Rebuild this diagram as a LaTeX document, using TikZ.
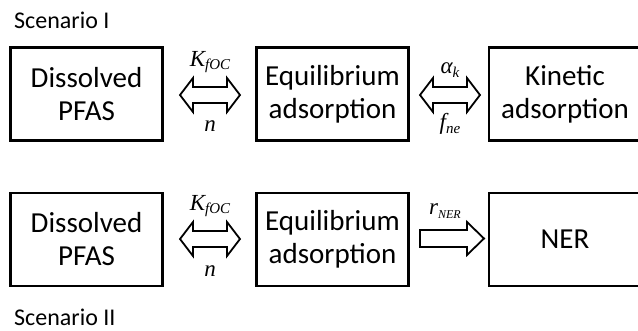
\documentclass[tikz,border=0pt]{standalone}
\usepackage{fontspec}
\setmainfont{Carlito}
\newfontfamily\tms{Liberation Serif}
\newcommand{\subsc}[1]{\raisebox{-3.5pt}{\fontsize{15}{15}\selectfont #1}}
\begin{document}
\begin{tikzpicture}[x=1pt,y=-1pt,
 box/.style={draw, line width=2.6pt, minimum width=152pt, minimum height=93pt, align=center, font=\fontsize{29}{33}\selectfont, inner sep=0pt},
 fat/.style={draw, line width=1.8pt, line join=miter},
 lab/.style={font=\tms\itshape\fontsize{23}{23}\selectfont, inner sep=0pt},
 title/.style={font=\fontsize{24}{24}\selectfont, inner sep=0pt, anchor=base west}]
\useasboundingbox (0,0) rectangle (638,330);
\fill[white] (0,0) rectangle (638,330);
\begin{scope}
\clip (0,0) rectangle (638,330);
\node[title] (s1) at (14,28) {Scenario I};
\node[title] (s2) at (14,325) {Scenario II};
% row 1
\node[box] (d1) at (86.5,94) {Dissolved\\PFAS};
\node[box] (e1) at (332.5,94) {Equilibrium\\adsorption};
\node[box] (k1) at (565,94) {Kinetic\\adsorption};
% row 2
\node[box] (d2) at (86.5,239.5) {Dissolved\\PFAS};
\node[box] (e2) at (332.5,239.5) {Equilibrium\\adsorption};
\node[box] (n2) at (565,239.5) {NER};
% double arrows
\draw[fat] (180,95) -- (193,78) -- (193,87) -- (227,87) -- (227,78) -- (240,95)
  -- (227,112) -- (227,103) -- (193,103) -- (193,112) -- cycle;
\draw[fat] (420,95) -- (433,78) -- (433,87) -- (467,87) -- (467,78) -- (480,95)
  -- (467,112) -- (467,103) -- (433,103) -- (433,112) -- cycle;
\draw[fat] (180,239) -- (193,222) -- (193,231) -- (227,231) -- (227,222) -- (240,239)
  -- (227,256) -- (227,247) -- (193,247) -- (193,256) -- cycle;
% single arrow
\draw[fat] (420,230) -- (467,230) -- (467,222) -- (484,238.5) -- (467,255) -- (467,247) -- (420,247) -- cycle;
% labels
\node[lab] (l1) at (210,62) {K\subsc{fOC}};
\node[lab] (l2) at (210,126) {n};
\node[lab] (l3) at (450,70) {α\subsc{k}};
\node[lab] (l4) at (450,124) {f\subsc{ne}};
\node[lab] (l5) at (210,206) {K\subsc{fOC}};
\node[lab] (l6) at (210,271) {n};
\node[lab] (l7) at (445,211) {r\subsc{\fontsize{12}{12}\selectfont NER}};
\end{scope}
\end{tikzpicture}
\end{document}
